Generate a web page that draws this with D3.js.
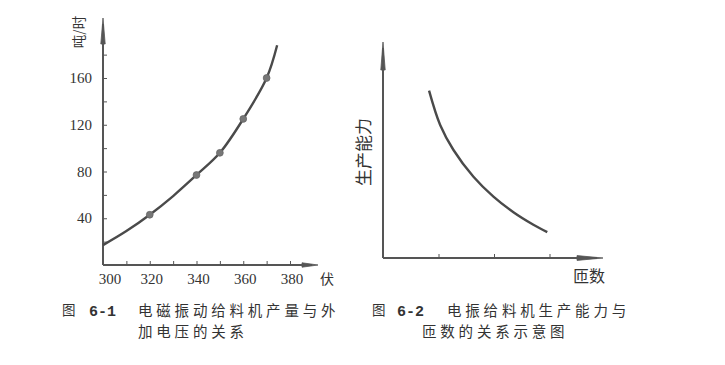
<!DOCTYPE html>
<html><head><meta charset="utf-8">
<script src="https://cdn.jsdelivr.net/npm/d3@7/dist/d3.min.js"></script>
<style>
html,body{margin:0;padding:0;background:#fff;}
svg{display:block;}
</style></head>
<body>
<script>
// ---- Data: Fig 6-1 ----
const voltage = [300, 310, 320, 330, 340, 350, 360, 370, 374.5];
const output  = [17, 29, 43, 59, 77, 96, 125, 160, 188];
const measuredVoltage = [320, 340, 350, 360, 370];
const measuredOutput  = [43, 77, 96, 125, 160];
const xTicks1 = [300, 320, 340, 360, 380];
const yTicks1 = [40, 80, 120, 160];

// ---- Data: Fig 6-2 (schematic) ----
const turns    = [0.83, 1.03, 1.27, 1.63, 1.99, 2.35, 2.71, 2.96];
const capacity = [7.75, 6.16, 5.0, 3.76, 2.84, 2.12, 1.54, 1.2];
const xTicks2 = [1, 2, 3];

// ---- Text ----
const cap1 = ["图", "6-1", "电磁振动给料机产量与外", "加电压的关系"];
const cap2 = ["图", "6-2", "电振给料机生产能力与", "匝数的关系示意图"];

const W = 725, H = 365;
const ink = "#4a4a4a", lineCol = "#555", txt = "#333";
const svg = d3.select("body").append("svg").attr("width", W).attr("height", H);

function arrow(g, tipX, tipY, dir, len, half) {
  let p;
  if (dir === "up") p = [[tipX, tipY], [tipX - half, tipY + len], [tipX + half, tipY + len]];
  else p = [[tipX, tipY], [tipX - len, tipY - half], [tipX - len, tipY + half]];
  g.append("path").attr("d", d3.line()(p) + "Z").attr("fill", lineCol).attr("stroke", lineCol).attr("stroke-width", 0.8);
}

// ===== Chart 1 =====
const x1 = d3.scaleLinear().domain([300, 380]).range([103, 290]);
const y1 = d3.scaleLinear().domain([0, 160]).range([265, 78]);
const g1 = svg.append("g");

const x1End = 318, y1Top = 18;
g1.append("line").attr("x1", x1(300)).attr("x2", x1End - 6).attr("y1", y1(0)).attr("y2", y1(0))
  .attr("stroke", lineCol).attr("stroke-width", 2);
g1.append("line").attr("x1", x1(300)).attr("x2", x1(300)).attr("y1", y1(0)).attr("y2", y1Top + 6)
  .attr("stroke", lineCol).attr("stroke-width", 2);
arrow(g1, x1(300), y1Top, "up", 26, 2.2);
arrow(g1, x1End, y1(0), "right", 16, 2.2);

const xa1 = d3.axisBottom(x1).tickValues(d3.range(310, 390, 10)).tickSize(-4).tickFormat("");
g1.append("g").attr("transform", `translate(0,${y1(0)})`).call(xa1)
  .call(g => g.select(".domain").remove())
  .call(g => g.selectAll("line").attr("stroke", lineCol).attr("stroke-width", 1));
g1.append("g").selectAll("text").data(xTicks1).join("text")
  .attr("x", (d, i) => x1(d) + (i === 0 ? 7 : 2)).attr("y", 284)
  .attr("text-anchor", "middle").attr("font-family", "Liberation Serif, serif").attr("font-size", 15)
  .attr("fill", txt).text(d => d);
g1.append("text").attr("x", 327).attr("y", 284).attr("text-anchor", "middle")
  .attr("font-family", "Noto Sans CJK SC").attr("font-size", 14).attr("fill", txt).text("伏");

const ya1 = d3.axisRight(y1).tickValues(d3.range(20, 200, 20)).tickSize(4).tickFormat("");
g1.append("g").attr("transform", `translate(${x1(300)},0)`).call(ya1)
  .call(g => g.select(".domain").remove())
  .call(g => g.selectAll("line").attr("stroke", lineCol).attr("stroke-width", 1));
g1.append("g").selectAll("text").data(yTicks1).join("text")
  .attr("x", 92).attr("y", d => y1(d) + 5)
  .attr("text-anchor", "end").attr("font-family", "Liberation Serif, serif").attr("font-size", 15)
  .attr("fill", txt).text(d => d);
g1.append("text").attr("transform", "translate(84,32) rotate(-90)").attr("text-anchor", "middle")
  .attr("font-family", "Noto Sans CJK SC").attr("font-size", 13.5).attr("fill", txt).text("吨/时");

g1.append("path").datum(voltage.map((v, i) => [v, output[i]]))
  .attr("d", d3.line().x(d => x1(d[0])).y(d => y1(d[1])).curve(d3.curveCatmullRom))
  .attr("fill", "none").attr("stroke", ink).attr("stroke-width", 2.4);
g1.append("g").selectAll("circle").data(measuredVoltage.map((v, i) => [v, measuredOutput[i]])).join("circle")
  .attr("cx", d => x1(d[0])).attr("cy", d => y1(d[1])).attr("r", 3.4)
  .attr("fill", "#777").attr("stroke", "#666").attr("stroke-width", 0.8);

// ===== Chart 2 =====
const x2 = d3.scaleLinear().domain([0, 3]).range([383, 549.5]);
const y2 = d3.scaleLinear().domain([0, 10]).range([258, 42]);
const g2 = svg.append("g");
const x2End = 603, y2Top = 42;
g2.append("line").attr("x1", x2(0)).attr("x2", x2End - 6).attr("y1", y2(0)).attr("y2", y2(0))
  .attr("stroke", lineCol).attr("stroke-width", 2);
g2.append("line").attr("x1", x2(0)).attr("x2", x2(0)).attr("y1", y2(0)).attr("y2", y2Top + 6)
  .attr("stroke", lineCol).attr("stroke-width", 2);
arrow(g2, x2(0), y2Top, "up", 28, 2.2);
arrow(g2, x2End, y2(0), "right", 26, 2.4);

const xa2 = d3.axisBottom(x2).tickValues(xTicks2).tickSize(-4).tickFormat("");
g2.append("g").attr("transform", `translate(0,${y2(0)})`).call(xa2)
  .call(g => g.select(".domain").remove())
  .call(g => g.selectAll("line").attr("stroke", lineCol).attr("stroke-width", 1));

g2.append("text").attr("transform", "translate(370,152) rotate(-90)").attr("text-anchor", "middle")
  .attr("font-family", "Noto Sans CJK SC").attr("font-size", 17).attr("fill", txt).text("生产能力");
g2.append("text").attr("x", 589).attr("y", 282).attr("text-anchor", "middle")
  .attr("font-family", "Noto Sans CJK SC").attr("font-size", 16).attr("fill", txt).text("匝数");

g2.append("path").datum(turns.map((v, i) => [v, capacity[i]]))
  .attr("d", d3.line().x(d => x2(d[0])).y(d => y2(d[1])).curve(d3.curveCatmullRom))
  .attr("fill", "none").attr("stroke", ink).attr("stroke-width", 2.4);

// ===== Captions =====
function caption(c, xFig, xNum, xText, xLine2) {
  const cg = svg.append("g").attr("fill", txt);
  cg.append("text").attr("x", xFig).attr("y", 315).attr("font-family", "Noto Sans CJK SC")
    .attr("font-size", 13.5).text(c[0]);
  cg.append("text").attr("x", xNum).attr("y", 316).attr("font-family", "Liberation Mono, monospace")
    .attr("font-size", 15).attr("font-weight", "bold").text(c[1]);
  cg.append("text").attr("x", xText).attr("y", 316).attr("font-family", "Noto Sans CJK SC")
    .attr("font-size", 14.5).attr("letter-spacing", 3.8).text(c[2]);
  cg.append("text").attr("x", xLine2).attr("y", 337).attr("font-family", "Noto Sans CJK SC")
    .attr("font-size", 14.5).attr("letter-spacing", 3.8).text(c[3]);
}
caption(cap1, 62, 89, 138, 138);
caption(cap2, 372, 397, 447, 422);
</script>
</body></html>
